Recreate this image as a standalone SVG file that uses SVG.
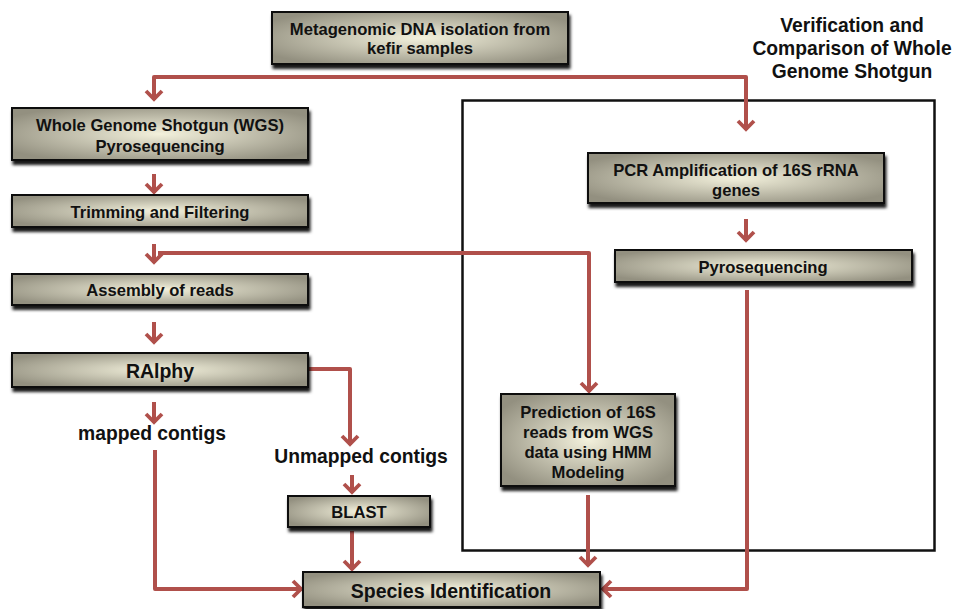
<svg xmlns="http://www.w3.org/2000/svg" width="953" height="609" viewBox="0 0 953 609">
<defs>
<radialGradient id="g" cx="50%" cy="50%" r="60%">
<stop offset="0%" stop-color="#f3f1dc"/>
<stop offset="100%" stop-color="#939080"/>
</radialGradient>
<filter id="sh" x="-10%" y="-20%" width="120%" height="160%">
<feDropShadow dx="1.5" dy="4" stdDeviation="1.8" flood-color="#000" flood-opacity="0.9"/>
</filter>
<marker id="ah" viewBox="-12 -10 14 20" refX="0" refY="0" markerWidth="14" markerHeight="20" markerUnits="userSpaceOnUse" orient="auto">
<path d="M-9,-8 L-1,0 L-9,8" fill="none" stroke="#b0504b" stroke-width="3.8" stroke-linejoin="miter"/>
</marker>
</defs>
<style>
.box{fill:url(#g);stroke:#111;stroke-width:2;filter:url(#sh)}
.t{font-family:"Liberation Sans",Arial,sans-serif;font-weight:bold;font-size:16.6px;fill:#111;text-anchor:middle}
.big{font-size:19.5px}
.lbl{font-family:"Liberation Sans",Arial,sans-serif;font-weight:bold;font-size:19.3px;fill:#111;text-anchor:middle}
.ce{fill:none;stroke:#b0504b;stroke-width:4;stroke-linejoin:round;marker-end:url(#ah)}
</style>
<rect width="953" height="609" fill="#fff"/>
<rect id="frame" x="462.5" y="100.5" width="472" height="450" fill="none" stroke="#111" stroke-width="2.5"/>
<g id="verif-label">
<text class="lbl" x="852" y="32">Verification and</text>
<text class="lbl" x="852" y="55">Comparison of Whole</text>
<text class="lbl" x="852" y="78">Genome Shotgun</text>
</g>
<g id="connectors">
<path class="ce" d="M746,77 H154 V100"/>
<path class="ce" d="M154,77 H746 V130"/>
<path class="ce" d="M154,174 V193"/>
<path class="ce" d="M154,244 V263"/>
<path class="ce" d="M158,253 H589 V392"/>
<path class="ce" d="M154,322 V343"/>
<path class="ce" d="M154,402 V423"/>
<path class="ce" d="M308,369 H350 V445"/>
<path class="ce" d="M155,450 V589 H302"/>
<path class="ce" d="M352,475 V493"/>
<path class="ce" d="M352,531 V570"/>
<path class="ce" d="M588,495 V566"/>
<path class="ce" d="M747,290 V589 H602"/>
<path class="ce" d="M746,219 V241"/>
</g>
<g id="n-dna">
<rect class="box" x="272" y="12" width="296" height="52"/>
<text class="t" x="420" y="35">Metagenomic DNA isolation from</text>
<text class="t" x="420" y="54">kefir samples</text>
</g>
<g id="n-wgs">
<rect class="box" x="12" y="108" width="296" height="52"/>
<text class="t" x="160" y="131">Whole Genome Shotgun (WGS)</text>
<text class="t" x="160" y="152">Pyrosequencing</text>
</g>
<g id="n-trim">
<rect class="box" x="12" y="195" width="296" height="32"/>
<text class="t" x="160" y="218">Trimming and Filtering</text>
</g>
<g id="n-assembly">
<rect class="box" x="12" y="274" width="296" height="31"/>
<text class="t" x="160" y="296">Assembly of reads</text>
</g>
<g id="n-ralphy">
<rect class="box" x="12" y="353" width="296" height="34"/>
<text class="t big" x="160" y="378">RAlphy</text>
</g>
<g id="n-mapped">
<text class="lbl" x="152" y="440">mapped contigs</text>
</g>
<g id="n-unmapped">
<text class="lbl" x="361" y="463">Unmapped contigs</text>
</g>
<g id="n-blast">
<rect class="box" x="288" y="496" width="142" height="31"/>
<text class="t" x="359" y="518">BLAST</text>
</g>
<g id="n-species">
<rect class="box" x="303" y="572" width="297" height="35"/>
<text class="t big" x="451" y="598">Species Identification</text>
</g>
<g id="n-pcr">
<rect class="box" x="588" y="153" width="296" height="50"/>
<text class="t" x="736" y="176">PCR Amplification of 16S rRNA</text>
<text class="t" x="736" y="196">genes</text>
</g>
<g id="n-pyro">
<rect class="box" x="615" y="250" width="297" height="32"/>
<text class="t" x="763" y="273">Pyrosequencing</text>
</g>
<g id="n-pred">
<rect class="box" x="501" y="394" width="174" height="92"/>
<text class="t" x="588" y="418">Prediction of 16S</text>
<text class="t" x="588" y="438">reads from WGS</text>
<text class="t" x="588" y="458">data using HMM</text>
<text class="t" x="588" y="478">Modeling</text>
</g>
</svg>
